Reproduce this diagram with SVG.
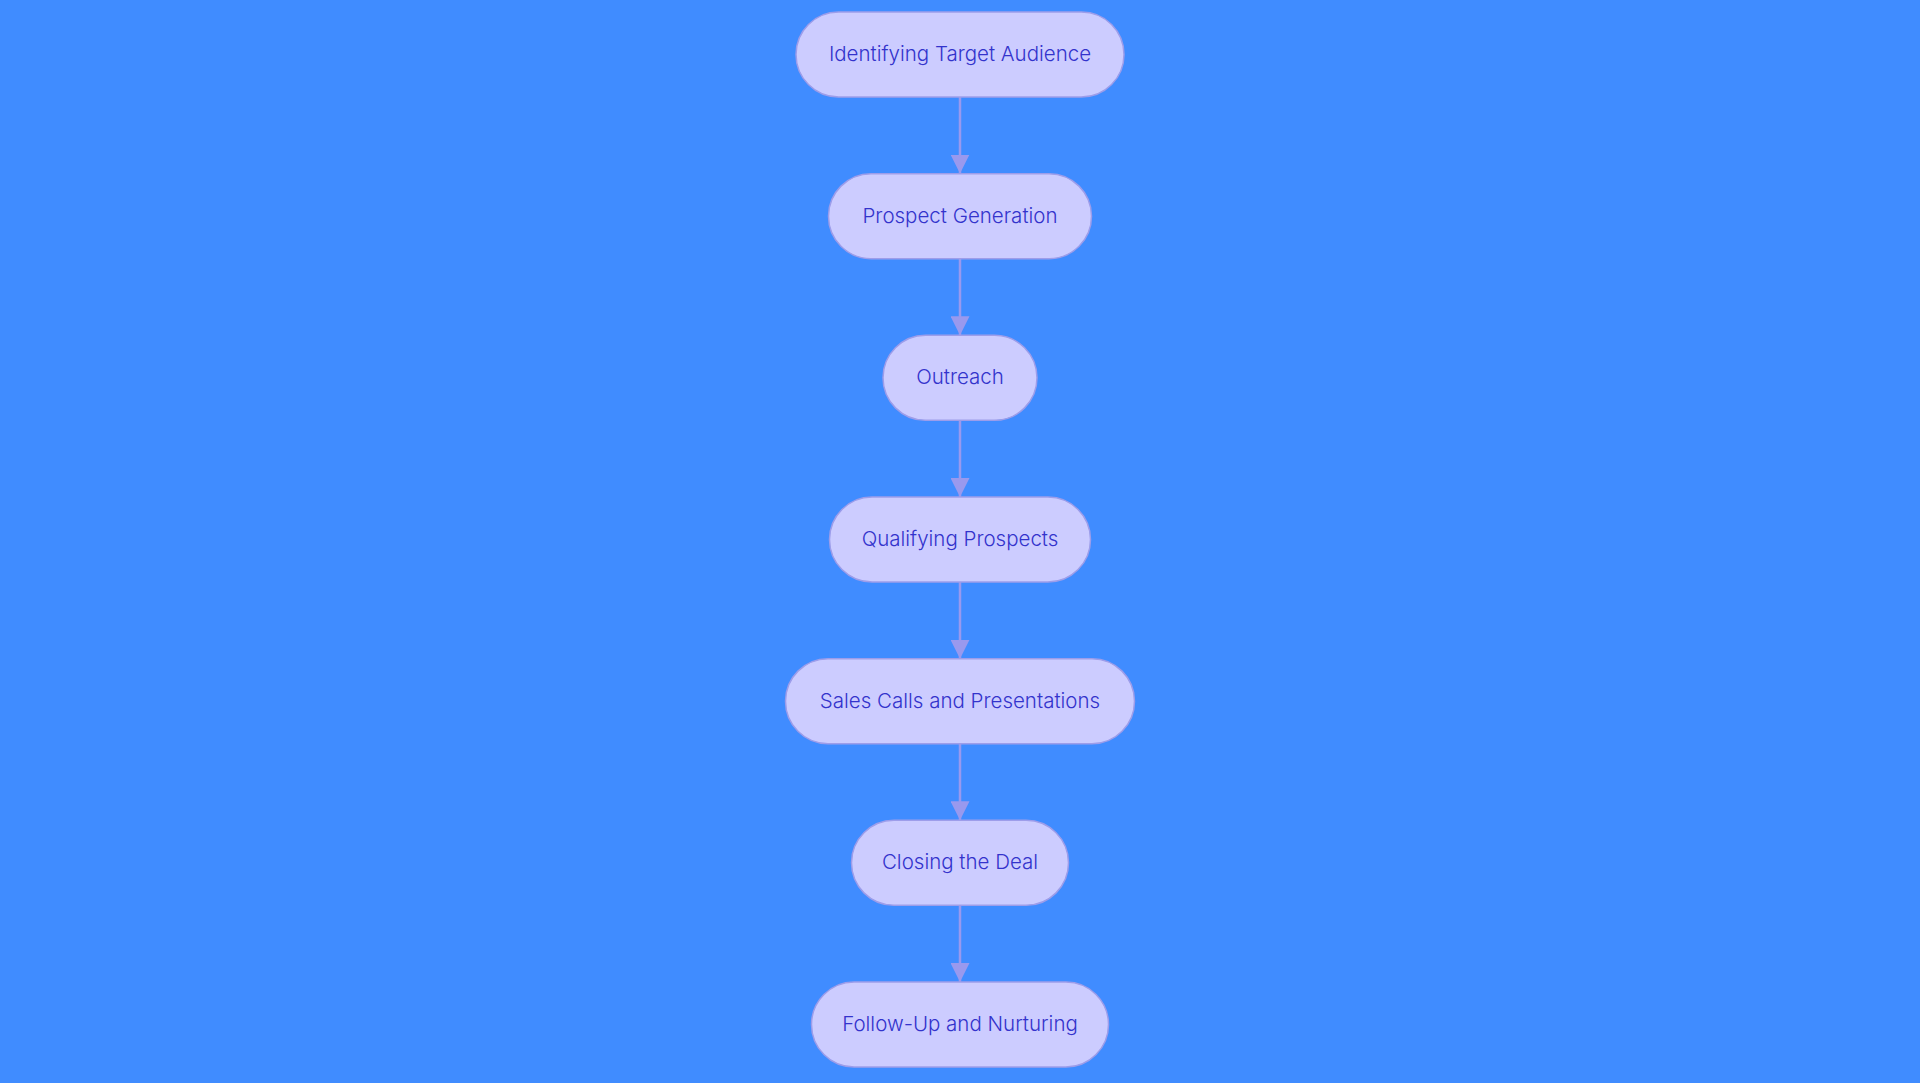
<svg xmlns="http://www.w3.org/2000/svg" width="1920" height="1083" viewBox="0 0 1920 1083">
<defs>
<style>
.node rect{fill:#CCCCFF;stroke:#9D9DEA;stroke-width:1.5}
.node text{font-family:Inter,"Noto Sans","Liberation Sans",sans-serif;font-size:20.5px;font-weight:300;fill:#3333CC;text-anchor:middle;dominant-baseline:central}
.edge{stroke:#9999EE;stroke-width:2.5;fill:none}
</style>
<marker id="arr" markerWidth="19" markerHeight="19" refX="19" refY="9.5" orient="auto" markerUnits="userSpaceOnUse">
<path d="M0,0 L19,9.5 L0,19 Z" fill="#9999EE"/>
</marker>
</defs>
<rect width="1920" height="1083" fill="#408CFF"/>
<g id="connectors">
<path class="edge" d="M960,97 L960,173.5" marker-end="url(#arr)"/>
<path class="edge" d="M960,258.5 L960,335.3" marker-end="url(#arr)"/>
<path class="edge" d="M960,420.3 L960,497" marker-end="url(#arr)"/>
<path class="edge" d="M960,582 L960,658.7" marker-end="url(#arr)"/>
<path class="edge" d="M960,743.7 L960,820.3" marker-end="url(#arr)"/>
<path class="edge" d="M960,905.3 L960,982" marker-end="url(#arr)"/>
</g>
<g id="n1" class="node"><rect x="796" y="12" width="328" height="85" rx="42.5"/><text x="960" y="53.5">Identifying Target Audience</text></g>
<g id="n2" class="node"><rect x="828.5" y="173.7" width="263" height="85" rx="42.5"/><text x="960" y="215.2">Prospect Generation</text></g>
<g id="n3" class="node"><rect x="883" y="335.3" width="154" height="85" rx="42.5"/><text x="960" y="376.8">Outreach</text></g>
<g id="n4" class="node"><rect x="829.5" y="497" width="261" height="85" rx="42.5"/><text x="960" y="538.5">Qualifying Prospects</text></g>
<g id="n5" class="node"><rect x="785.5" y="658.7" width="349" height="85" rx="42.5"/><text x="960" y="700.2">Sales Calls and Presentations</text></g>
<g id="n6" class="node"><rect x="851.5" y="820.3" width="217" height="85" rx="42.5"/><text x="960" y="861.8">Closing the Deal</text></g>
<g id="n7" class="node"><rect x="811.5" y="982" width="297" height="85" rx="42.5"/><text x="960" y="1023.5">Follow-Up and Nurturing</text></g>
</svg>
